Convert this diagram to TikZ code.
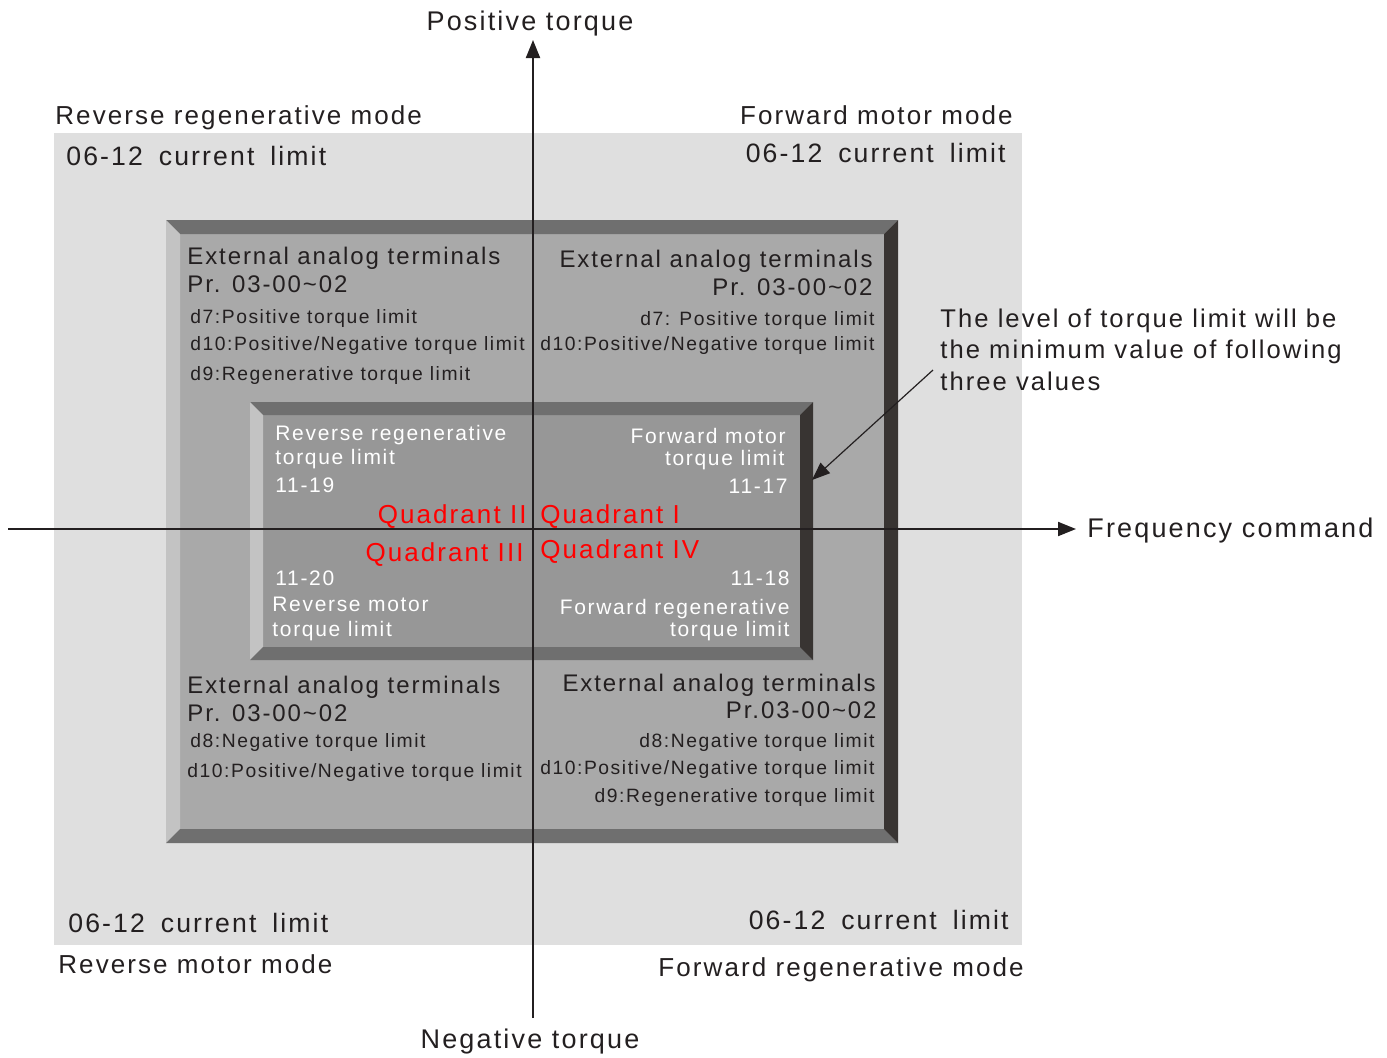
\documentclass[tikz,border=0pt]{standalone}
\usepackage{fontspec}
\setmainfont{Liberation Sans}[LetterSpace=8]
\usetikzlibrary{arrows.meta}
\definecolor{ink}{HTML}{231F20}
\definecolor{bgc}{HTML}{DFDFDF}
\definecolor{faceA}{HTML}{A9A9A9}
\definecolor{faceB}{HTML}{979797}
\definecolor{bvTop}{HTML}{6F6F6F}
\definecolor{bvLeft}{HTML}{C3C3C3}
\definecolor{bvRight}{HTML}{383432}
\definecolor{qred}{HTML}{FF0000}
\newcommand{\curlim}{06-12\hspace{0.6em}current\hspace{0.6em}limit}
\tikzset{
  lbl/.style={inner sep=0pt, text=ink, font=\fontsize{12}{14}\selectfont},
  axl/.style={lbl, font=\fontsize{13.5}{16}\selectfont},
  model/.style={lbl, font=\fontsize{13}{15}\selectfont},
  big/.style={lbl, font=\fontsize{13.3}{15}\selectfont},
  annl/.style={lbl, font=\fontsize{12.8}{15}\selectfont},
  small/.style={lbl, font=\fontsize{9.65}{12}\selectfont},
  wlbl/.style={inner sep=0pt, text=white, font=\fontsize{10.5}{12}\selectfont},
  qlbl/.style={inner sep=0pt, text=qred, font=\fontsize{13}{15}\selectfont},
  axis/.style={draw=ink, line width=1pt, -{Triangle[length=9pt,width=7pt]}},
  pointer/.style={draw=ink, line width=0.6pt, -{Triangle[length=9pt,width=7pt]}},
}
\newcommand{\bevelbox}[6]{% L T R B w face
  \fill[#6] (#1+#5,#2+#5) rectangle (#3-#5,#4-#5);
  \fill[bvTop] (#1,#2) -- (#3,#2) -- (#3-#5,#2+#5) -- (#1+#5,#2+#5) -- cycle;
  \fill[bvLeft] (#1,#2) -- (#1+#5,#2+#5) -- (#1+#5,#4-#5) -- (#1,#4) -- cycle;
  \fill[bvTop] (#1,#4) -- (#1+#5,#4-#5) -- (#3-#5,#4-#5) -- (#3,#4) -- cycle;
  \fill[bvRight] (#3,#2) -- (#3,#4) -- (#3-#5,#4-#5) -- (#3-#5,#2+#5) -- cycle;
}
\begin{document}
\begin{tikzpicture}[x=0.5pt,y=-0.5pt]
\useasboundingbox (0,0) rectangle (1387,1057);
% background
\fill[bgc] (54,133) rectangle (1022,945);
\bevelbox{166}{220}{898}{843}{14}{faceA}
\bevelbox{250}{402}{813}{660}{13}{faceB}

% axes
\coordinate (vbot) at (533,1018);
\coordinate (vtop) at (533,40);
\coordinate (hl) at (8,529);
\coordinate (hr) at (1076,529);
\draw[axis] (vbot) -- (vtop);
\draw[axis] (hl) -- (hr);

% axis labels
\node[axl, anchor=base] (pt) at (530,30) {Positive torque};
\node[axl, anchor=base] (nt) at (530,1048) {Negative torque};
\node[axl, anchor=base west] (fc) at (1087,537) {Frequency command};

% mode labels
\node[model, anchor=base west] (rrm) at (55,124) {Reverse regenerative mode};
\node[model, anchor=base east] (fmm) at (1013,124) {Forward motor mode};
\node[model, anchor=base west] (rmm) at (58,973) {Reverse motor mode};
\node[model, anchor=base east] (frm) at (1024,976) {Forward regenerative mode};

% current limits
\node[big, anchor=base west] (cl1) at (66,165) {\curlim};
\node[big, anchor=base east] (cl2) at (1006,162) {\curlim};
\node[big, anchor=base west] (cl3) at (68,932) {\curlim};
\node[big, anchor=base east] (cl4) at (1009,929) {\curlim};

% external analog terminals - top left
\node[lbl, anchor=base west] (tl1) at (187,264) {External analog terminals};
\node[lbl, anchor=base west] (tl2) at (187,292) {Pr. 03-00\textasciitilde 02};
\node[small, anchor=base west] (tl3) at (190,323) {d7:Positive torque limit};
\node[small, anchor=base west] (tl4) at (190,350) {d10:Positive/Negative torque limit};
\node[small, anchor=base west] (tl5) at (190,380) {d9:Regenerative torque limit};

% top right
\node[lbl, anchor=base east] (tr1) at (873,267) {External analog terminals};
\node[lbl, anchor=base east] (tr2) at (873,295) {Pr. 03-00\textasciitilde 02};
\node[small, anchor=base east] (tr3) at (875,325) {d7: Positive torque limit};
\node[small, anchor=base east] (tr4) at (875,350) {d10:Positive/Negative torque limit};

% bottom left
\node[lbl, anchor=base west] (bl1) at (187,693) {External analog terminals};
\node[lbl, anchor=base west] (bl2) at (187,721) {Pr. 03-00\textasciitilde 02};
\node[small, anchor=base west] (bl3) at (190,747) {d8:Negative torque limit};
\node[small, anchor=base west] (bl4) at (187,777) {d10:Positive/Negative torque limit};

% bottom right
\node[lbl, anchor=base east] (br1) at (876,691) {External analog terminals};
\node[lbl, anchor=base east] (br2) at (877,718) {Pr.03-00\textasciitilde 02};
\node[small, anchor=base east] (br3) at (875,747) {d8:Negative torque limit};
\node[small, anchor=base east] (br4) at (875,774) {d10:Positive/Negative torque limit};
\node[small, anchor=base east] (br5) at (875,802) {d9:Regenerative torque limit};

% inner box texts
\node[wlbl, anchor=base west] (i1) at (275,440) {Reverse regenerative};
\node[wlbl, anchor=base west] (i2) at (275,464) {torque limit};
\node[wlbl, anchor=base west] (i3) at (275,492) {11-19};
\node[wlbl, anchor=base east] (i4) at (786,443) {Forward motor};
\node[wlbl, anchor=base east] (i5) at (785,465) {torque limit};
\node[wlbl, anchor=base east] (i6) at (788,493) {11-17};
\node[wlbl, anchor=base west] (i7) at (275,585) {11-20};
\node[wlbl, anchor=base west] (i8) at (272,611) {Reverse motor};
\node[wlbl, anchor=base west] (i9) at (272,636) {torque limit};
\node[wlbl, anchor=base east] (i10) at (790,585) {11-18};
\node[wlbl, anchor=base east] (i11) at (790,614) {Forward regenerative};
\node[wlbl, anchor=base east] (i12) at (790,636) {torque limit};

% quadrants
\node[qlbl, anchor=base east] (q2) at (527,523) {Quadrant II};
\node[qlbl, anchor=base west] (q1) at (540,523) {Quadrant I};
\node[qlbl, anchor=base east] (q3) at (524,561) {Quadrant III};
\node[qlbl, anchor=base west] (q4) at (540,558) {Quadrant IV};

% annotation
\node[annl, anchor=base west] (ann1) at (940,327) {The level of torque limit will be};
\node[annl, anchor=base west] (ann2) at (940,358) {the minimum value of following};
\node[annl, anchor=base west] (ann3) at (940,390) {three values};
\coordinate (annstart) at (933,370);
\coordinate (annend) at (812,480);
\draw[pointer] (annstart) -- (annend);
\end{tikzpicture}
\end{document}
